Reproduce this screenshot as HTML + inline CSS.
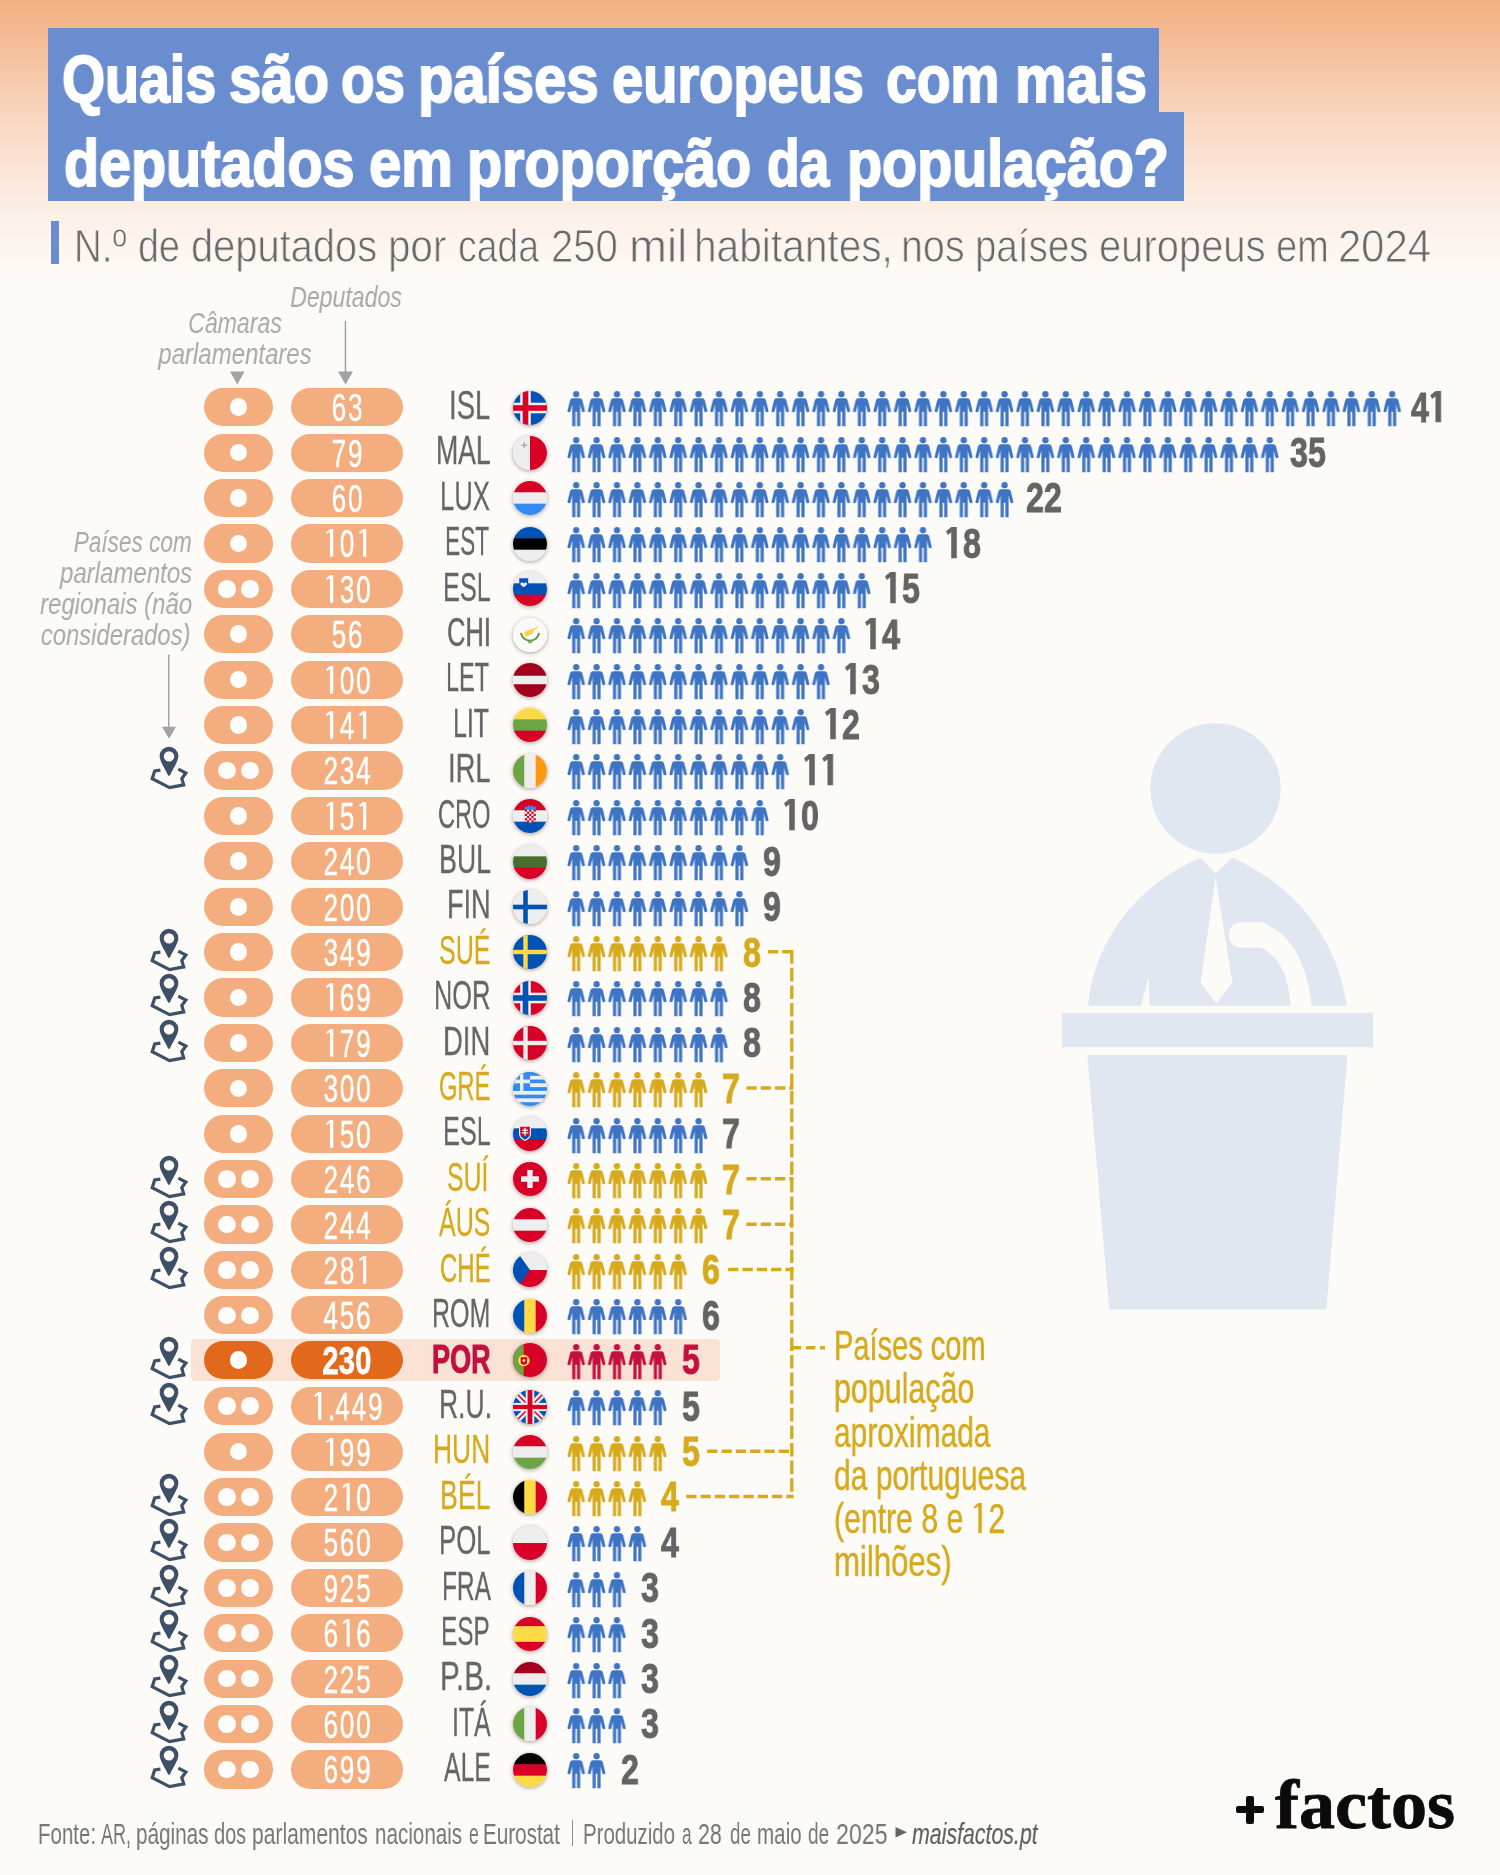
<!DOCTYPE html>
<html><head><meta charset="utf-8"><title>Deputados por habitante</title><style>
html,body{margin:0;padding:0;}
body{width:1500px;height:1875px;position:relative;overflow:hidden;background:#fdfbf8;font-family:"Liberation Sans",sans-serif;}
#bg{position:absolute;left:0;top:0;width:1500px;height:320px;background:linear-gradient(to bottom,#f3b082 0px,#f6c7a6 70px,#fadeca 140px,#fcf0e7 215px,#fdf8f4 265px,#fdfbf8 320px);}
.abs{position:absolute;}
.t{position:absolute;font-family:"Liberation Sans",sans-serif;line-height:1;white-space:nowrap;will-change:transform;}
.t.se{font-family:"Liberation Serif",serif;}
.o1{display:inline-block;width:0.627em;height:0.701em;vertical-align:baseline;fill:currentColor;}
.o1b{display:inline-block;width:0.5644em;height:0.739em;vertical-align:-0.5px;fill:currentColor;}
.pill{position:absolute;height:38.2px;border-radius:19.1px;background:#f4ad7e;}
.pill.h{background:#e2681c;}
.dot{position:absolute;width:17.6px;height:17.6px;border-radius:50%;background:#fefdfb;top:10.3px;}
.flag{position:absolute;width:34px;height:34px;border-radius:50%;box-shadow:0 1px 4px rgba(60,40,30,0.45);}
.flag svg{display:block;width:34px;height:34px;border-radius:50%;}
</style></head><body>
<div id="bg"></div>
<svg width="0" height="0" style="position:absolute"><defs>
<g id="p"><circle cx="0" cy="3.200" r="3.150"/><path d="M-3.600,7.200H3.600Q5.700,7.200 6.200,9.200L8.700,19.600Q9,21 7.500,21.300Q6.100,21.500 5.700,20.200L4,13.400V35.200H0.800V20.800H-0.800V35.200H-4V13.400L-5.700,20.200Q-6.100,21.500 -7.500,21.300Q-9,21 -8.700,19.600L-6.200,9.200Q-5.700,7.200 -3.600,7.200Z"/></g>
<pattern id="ppb" x="0" y="0" width="20.400" height="40" patternUnits="userSpaceOnUse"><use href="#p" x="10.200" y="0" fill="#3e74c4"/></pattern>
<pattern id="ppy" x="0" y="0" width="20.400" height="40" patternUnits="userSpaceOnUse"><use href="#p" x="10.200" y="0" fill="#d6aa1c"/></pattern>
<pattern id="ppr" x="0" y="0" width="20.400" height="40" patternUnits="userSpaceOnUse"><use href="#p" x="10.200" y="0" fill="#c3113f"/></pattern>
<g id="pin"><path d="M0,-23.300A9.350,9.350 0 0 0 -9.350,-13.950C-9.350,-8.500 -3.700,-0.800 -1.400,4.500Q0,7.400 1.400,4.500C3.700,-0.800 9.350,-8.500 9.350,-13.950A9.350,9.350 0 0 0 0,-23.300Z" fill="#3e5068"/><circle cx="0" cy="-13.600" r="5.200" fill="#fdfbf8"/><path d="M-8.600,0.100L-14.300,0.900L-16.800,8.700L0.500,17.600L14.700,14.900L12.800,8.500L16.900,3L9.300,-0.900" fill="none" stroke="#3e5068" stroke-width="3.200" stroke-linejoin="miter"/></g>
</defs></svg>
<div class="abs" style="left:48px;top:28.3px;width:1111px;height:84px;background:#698dcf;"></div>
<div class="abs" style="left:48px;top:111.700px;width:1136px;height:89.600px;background:#698dcf;"></div>
<div class="t" style="top:46.43px;font-size:66px;color:#fff;font-weight:700;left:62.32px;transform-origin:0 0;transform:scaleX(0.8403);-webkit-text-stroke:2px #fff;">Quais</div>
<div class="t" style="top:46.43px;font-size:66px;color:#fff;font-weight:700;left:228.86px;transform-origin:0 0;transform:scaleX(0.8792);-webkit-text-stroke:2px #fff;">são</div>
<div class="t" style="top:46.43px;font-size:66px;color:#fff;font-weight:700;left:341.17px;transform-origin:0 0;transform:scaleX(0.8311);-webkit-text-stroke:2px #fff;">os</div>
<div class="t" style="top:46.43px;font-size:66px;color:#fff;font-weight:700;left:418.35px;transform-origin:0 0;transform:scaleX(0.8791);-webkit-text-stroke:2px #fff;">países</div>
<div class="t" style="top:46.43px;font-size:66px;color:#fff;font-weight:700;left:612.39px;transform-origin:0 0;transform:scaleX(0.8484);-webkit-text-stroke:2px #fff;">europeus</div>
<div class="t" style="top:46.43px;font-size:66px;color:#fff;font-weight:700;left:885.66px;transform-origin:0 0;transform:scaleX(0.8359);-webkit-text-stroke:2px #fff;">com</div>
<div class="t" style="top:46.43px;font-size:66px;color:#fff;font-weight:700;left:1014.61px;transform-origin:0 0;transform:scaleX(0.8769);-webkit-text-stroke:2px #fff;">mais</div>
<div class="t" style="top:130.43px;font-size:66px;color:#fff;font-weight:700;left:63.52px;transform-origin:0 0;transform:scaleX(0.8704);-webkit-text-stroke:2px #fff;">deputados</div>
<div class="t" style="top:130.43px;font-size:66px;color:#fff;font-weight:700;left:369.10px;transform-origin:0 0;transform:scaleX(0.8765);-webkit-text-stroke:2px #fff;">em</div>
<div class="t" style="top:130.43px;font-size:66px;color:#fff;font-weight:700;left:467.13px;transform-origin:0 0;transform:scaleX(0.8709);-webkit-text-stroke:2px #fff;">proporção</div>
<div class="t" style="top:130.43px;font-size:66px;color:#fff;font-weight:700;left:766.63px;transform-origin:0 0;transform:scaleX(0.8083);-webkit-text-stroke:2px #fff;">da</div>
<div class="t" style="top:130.43px;font-size:66px;color:#fff;font-weight:700;left:846.63px;transform-origin:0 0;transform:scaleX(0.869);-webkit-text-stroke:2px #fff;">população?</div>
<div class="abs" style="left:50.600px;top:220.600px;width:8.400px;height:43.800px;background:#6b8dd0;"></div>
<div class="t" style="top:223.24px;font-size:46.5px;color:#686868;font-weight:400;left:74.48px;transform-origin:0 0;transform:scaleX(0.829);-webkit-text-stroke:0.9px #fdf6f0;">N.º</div>
<div class="t" style="top:223.24px;font-size:46.5px;color:#686868;font-weight:400;left:137.60px;transform-origin:0 0;transform:scaleX(0.8102);-webkit-text-stroke:0.9px #fdf6f0;">de</div>
<div class="t" style="top:223.24px;font-size:46.5px;color:#686868;font-weight:400;left:191.24px;transform-origin:0 0;transform:scaleX(0.8568);-webkit-text-stroke:0.9px #fdf6f0;">deputados</div>
<div class="t" style="top:223.24px;font-size:46.5px;color:#686868;font-weight:400;left:388.26px;transform-origin:0 0;transform:scaleX(0.868);-webkit-text-stroke:0.9px #fdf6f0;">por</div>
<div class="t" style="top:223.24px;font-size:46.5px;color:#686868;font-weight:400;left:458.03px;transform-origin:0 0;transform:scaleX(0.8036);-webkit-text-stroke:0.9px #fdf6f0;">cada</div>
<div class="t" style="top:223.24px;font-size:46.5px;color:#686868;font-weight:400;left:551.38px;transform-origin:0 0;transform:scaleX(0.8609);-webkit-text-stroke:0.9px #fdf6f0;">250</div>
<div class="t" style="top:223.24px;font-size:46.5px;color:#686868;font-weight:400;left:629.02px;transform-origin:0 0;transform:scaleX(0.9799);-webkit-text-stroke:0.9px #fdf6f0;">mil</div>
<div class="t" style="top:223.24px;font-size:46.5px;color:#686868;font-weight:400;left:693.81px;transform-origin:0 0;transform:scaleX(0.8744);-webkit-text-stroke:0.9px #fdf6f0;">habitantes,</div>
<div class="t" style="top:223.24px;font-size:46.5px;color:#686868;font-weight:400;left:900.74px;transform-origin:0 0;transform:scaleX(0.8478);-webkit-text-stroke:0.9px #fdf6f0;">nos</div>
<div class="t" style="top:223.24px;font-size:46.5px;color:#686868;font-weight:400;left:974.75px;transform-origin:0 0;transform:scaleX(0.8274);-webkit-text-stroke:0.9px #fdf6f0;">países</div>
<div class="t" style="top:223.24px;font-size:46.5px;color:#686868;font-weight:400;left:1098.70px;transform-origin:0 0;transform:scaleX(0.8585);-webkit-text-stroke:0.9px #fdf6f0;">europeus</div>
<div class="t" style="top:223.24px;font-size:46.5px;color:#686868;font-weight:400;left:1276.40px;transform-origin:0 0;transform:scaleX(0.8177);-webkit-text-stroke:0.9px #fdf6f0;">em</div>
<div class="t" style="top:223.24px;font-size:46.5px;color:#686868;font-weight:400;left:1338.33px;transform-origin:0 0;transform:scaleX(0.8999);-webkit-text-stroke:0.9px #fdf6f0;">2024</div>
<div class="t" style="top:281.61px;font-size:30px;color:#a9a9a9;font-weight:400;font-style:italic;left:346.00px;transform-origin:0 0;transform:scaleX(0.77) translateX(-50%);">Deputados</div>
<div class="t" style="top:308.21px;font-size:30px;color:#a9a9a9;font-weight:400;font-style:italic;left:234.70px;transform-origin:0 0;transform:scaleX(0.77) translateX(-50%);">Câmaras</div>
<div class="t" style="top:338.61px;font-size:30px;color:#a9a9a9;font-weight:400;font-style:italic;left:234.70px;transform-origin:0 0;transform:scaleX(0.8) translateX(-50%);">parlamentares</div>
<svg class="abs" style="left:0;top:0" width="1500" height="1875" viewBox="0 0 1500 1875">
<path d="M230,371.600h14.600l-7.300,12.800z" fill="#a3a3a3"/>
<path d="M338,371.600h15l-7.500,12.800z" fill="#a3a3a3"/><rect x="344.700" y="321" width="1.500" height="52" fill="#a3a3a3"/>
<path d="M162,726.700h14l-7,12z" fill="#a3a3a3"/><rect x="168" y="654.700" width="1.500" height="73" fill="#a3a3a3"/>
<g fill="#e1e7f0">
<circle cx="1215.500" cy="788.500" r="65.200"/>
<path d="M1088,1005.700C1094,945 1132,887 1200.700,857.800L1215.500,873L1232.400,857.800C1299,887 1338,943 1346.800,1005.700H1311.600C1309,975 1296,938 1269.400,926.500C1267,923.500 1264,922.300 1260,922.300H1242C1233,922.300 1228.900,928 1228.900,935C1228.900,942 1233,947.600 1242,947.600H1260C1278,955 1289,975 1290.500,1005.700H1149.600L1148.600,977.500L1140.800,1005.700Z"/>
<rect x="1062" y="1012.700" width="311.200" height="34.600"/>
<path d="M1087.300,1055H1347.500L1326.400,1309.600H1109.200Z"/>
</g>
<path d="M1215.500,877.200L1232.400,982.800L1216.200,1003.200L1200.700,982.800Z" fill="#fdfbf8"/>
<path d="M792,950.2V1498.1" stroke="#d6aa1c" stroke-width="3.300" stroke-dasharray="13.600 4" fill="none" transform="translate(-0.2,0)"/>
<path d="M768,951.7H793.400" stroke="#d6aa1c" stroke-width="3.500" stroke-dasharray="10.300 4" fill="none"/>
<path d="M746.4,1087.9H793.400" stroke="#d6aa1c" stroke-width="3.500" stroke-dasharray="10.300 4" fill="none"/>
<path d="M746.4,1178.8H793.400" stroke="#d6aa1c" stroke-width="3.500" stroke-dasharray="10.300 4" fill="none"/>
<path d="M746.4,1224.2H793.400" stroke="#d6aa1c" stroke-width="3.500" stroke-dasharray="10.300 4" fill="none"/>
<path d="M728.2,1269.6H793.400" stroke="#d6aa1c" stroke-width="3.500" stroke-dasharray="10.300 4" fill="none"/>
<path d="M707.2,1451.2H793.400" stroke="#d6aa1c" stroke-width="3.500" stroke-dasharray="10.300 4" fill="none"/>
<path d="M686.2,1496.6H793.400" stroke="#d6aa1c" stroke-width="3.500" stroke-dasharray="10.300 4" fill="none"/>
<path d="M791.800,1347.800H825" stroke="#d6aa1c" stroke-width="3.500" stroke-dasharray="9.500 4.600" fill="none"/>
</svg>
<div class="t" style="top:526.61px;font-size:30px;color:#a9a9a9;font-weight:400;font-style:italic;right:1308.00px;transform-origin:100% 0;transform:scaleX(0.753);">Países com</div>
<div class="t" style="top:557.61px;font-size:30px;color:#a9a9a9;font-weight:400;font-style:italic;right:1307.80px;transform-origin:100% 0;transform:scaleX(0.8);">parlamentos</div>
<div class="t" style="top:588.61px;font-size:30px;color:#a9a9a9;font-weight:400;font-style:italic;right:1308.20px;transform-origin:100% 0;transform:scaleX(0.8);">regionais (não</div>
<div class="t" style="top:619.61px;font-size:30px;color:#a9a9a9;font-weight:400;font-style:italic;right:1309.50px;transform-origin:100% 0;transform:scaleX(0.794);">considerados)</div>
<div class="abs" style="left:190.600px;top:1339.200px;width:529.600px;height:41.600px;border-radius:4.500px;background:#fae3d5;"></div>
<div class="pill" style="left:204.400px;top:388.10px;width:68.400px;"><div class="dot" style="left:25.350px"></div></div>
<div class="pill" style="left:290.500px;top:388.10px;width:112.400px;"></div>
<div class="t" style="top:388.16px;font-size:39.5px;color:#fff;font-weight:400;letter-spacing:2.8px;left:347.60px;transform-origin:0 0;transform:scaleX(0.66) translateX(-50%);-webkit-text-stroke:0.55px #fff;">63</div>
<div class="t" style="top:385.89px;font-size:40.3px;color:#666;font-weight:400;left:449.48px;transform-origin:0 0;transform:scaleX(0.6828);-webkit-text-stroke:0.3px #666;">ISL</div>
<div class="flag" style="left:512.500px;top:390.50px;"><svg viewBox="0 0 34 34"><rect width="34" height="34" fill="#0052b4"/><rect x="7.2" y="0" width="10.6" height="34" fill="#eeeeee"/><rect x="0" y="11.7" width="34" height="10.6" fill="#eeeeee"/><rect x="9.7" y="0" width="5.6" height="34" fill="#d80027"/><rect x="0" y="14.2" width="34" height="5.6" fill="#d80027"/></svg></div>
<svg class="abs" style="left:566.200px;top:391.10px" width="836.4" height="36" viewBox="0 0 836.4 36"><rect x="0" y="0" width="836.4" height="36" fill="url(#ppb)"/></svg>
<div class="t" style="top:386.58px;font-size:42.2px;color:#646464;font-weight:700;letter-spacing:0.35px;left:1411.41px;transform-origin:0 0;transform:scaleX(0.76);-webkit-text-stroke:1px #646464;">4<svg class="o1b" viewBox="0 0 564 739"><path d="M195,0H369.500V739H195V125.600L88.900,189.600L29.600,102Z"/></svg></div>
<div class="pill" style="left:204.400px;top:433.51px;width:68.400px;"><div class="dot" style="left:25.350px"></div></div>
<div class="pill" style="left:290.500px;top:433.51px;width:112.400px;"></div>
<div class="t" style="top:433.57px;font-size:39.5px;color:#fff;font-weight:400;letter-spacing:2.8px;left:347.60px;transform-origin:0 0;transform:scaleX(0.66) translateX(-50%);-webkit-text-stroke:0.55px #fff;">79</div>
<div class="t" style="top:431.30px;font-size:40.3px;color:#666;font-weight:400;left:436.02px;transform-origin:0 0;transform:scaleX(0.6603);-webkit-text-stroke:0.3px #666;">MAL</div>
<div class="flag" style="left:512.500px;top:435.91px;"><svg viewBox="0 0 34 34"><rect width="34" height="34" fill="#eeeeee"/><rect x="17" width="17" height="34" fill="#d80027"/><path d="M10.5 6.2h1.6v2.2h2.2v1.6h-2.2v2.2h-1.6v-2.2h-2.2v-1.6h2.2z" fill="#acabb1"/></svg></div>
<svg class="abs" style="left:566.200px;top:436.51px" width="714.0" height="36" viewBox="0 0 714.0 36"><rect x="0" y="0" width="714.0" height="36" fill="url(#ppb)"/></svg>
<div class="t" style="top:431.99px;font-size:42.2px;color:#646464;font-weight:700;letter-spacing:0.35px;left:1289.79px;transform-origin:0 0;transform:scaleX(0.76);-webkit-text-stroke:1px #646464;">35</div>
<div class="pill" style="left:204.400px;top:478.92px;width:68.400px;"><div class="dot" style="left:25.350px"></div></div>
<div class="pill" style="left:290.500px;top:478.92px;width:112.400px;"></div>
<div class="t" style="top:478.98px;font-size:39.5px;color:#fff;font-weight:400;letter-spacing:2.8px;left:347.60px;transform-origin:0 0;transform:scaleX(0.66) translateX(-50%);-webkit-text-stroke:0.55px #fff;">60</div>
<div class="t" style="top:476.71px;font-size:40.3px;color:#666;font-weight:400;left:440.20px;transform-origin:0 0;transform:scaleX(0.6362);-webkit-text-stroke:0.3px #666;">LUX</div>
<div class="flag" style="left:512.500px;top:481.32px;"><svg viewBox="0 0 34 34"><rect x="0" y="0.00" width="34" height="11.83" fill="#d80027"/><rect x="0" y="11.33" width="34" height="11.83" fill="#eeeeee"/><rect x="0" y="22.67" width="34" height="11.83" fill="#338af3"/></svg></div>
<svg class="abs" style="left:566.200px;top:481.92px" width="448.8" height="36" viewBox="0 0 448.8 36"><rect x="0" y="0" width="448.8" height="36" fill="url(#ppb)"/></svg>
<div class="t" style="top:477.40px;font-size:42.2px;color:#646464;font-weight:700;letter-spacing:0.35px;left:1026.28px;transform-origin:0 0;transform:scaleX(0.76);-webkit-text-stroke:1px #646464;">22</div>
<div class="pill" style="left:204.400px;top:524.33px;width:68.400px;"><div class="dot" style="left:25.350px"></div></div>
<div class="pill" style="left:290.500px;top:524.33px;width:112.400px;"></div>
<div class="t" style="top:524.39px;font-size:39.5px;color:#fff;font-weight:400;letter-spacing:2.8px;left:347.60px;transform-origin:0 0;transform:scaleX(0.66) translateX(-50%);-webkit-text-stroke:0.55px #fff;"><svg class="o1" viewBox="0 0 627 701"><path d="M253,0H372V701H253V78L142,125L92,89Z"/></svg>0<svg class="o1" viewBox="0 0 627 701"><path d="M253,0H372V701H253V78L142,125L92,89Z"/></svg></div>
<div class="t" style="top:522.12px;font-size:40.3px;color:#666;font-weight:400;left:444.63px;transform-origin:0 0;transform:scaleX(0.5624);-webkit-text-stroke:0.3px #666;">EST</div>
<div class="flag" style="left:512.500px;top:526.73px;"><svg viewBox="0 0 34 34"><rect x="0" y="0.00" width="34" height="11.83" fill="#0052b4"/><rect x="0" y="11.33" width="34" height="11.83" fill="#000000"/><rect x="0" y="22.67" width="34" height="11.83" fill="#eeeeee"/></svg></div>
<svg class="abs" style="left:566.200px;top:527.33px" width="367.2" height="36" viewBox="0 0 367.2 36"><rect x="0" y="0" width="367.2" height="36" fill="url(#ppb)"/></svg>
<div class="t" style="top:522.81px;font-size:42.2px;color:#646464;font-weight:700;letter-spacing:0.35px;left:945.20px;transform-origin:0 0;transform:scaleX(0.76);-webkit-text-stroke:1px #646464;"><svg class="o1b" viewBox="0 0 564 739"><path d="M195,0H369.500V739H195V125.600L88.900,189.600L29.600,102Z"/></svg>8</div>
<div class="pill" style="left:204.400px;top:569.74px;width:68.400px;"><div class="dot" style="left:13.900px"></div><div class="dot" style="left:36.800px"></div></div>
<div class="pill" style="left:290.500px;top:569.74px;width:112.400px;"></div>
<div class="t" style="top:569.80px;font-size:39.5px;color:#fff;font-weight:400;letter-spacing:2.8px;left:347.60px;transform-origin:0 0;transform:scaleX(0.66) translateX(-50%);-webkit-text-stroke:0.55px #fff;"><svg class="o1" viewBox="0 0 627 701"><path d="M253,0H372V701H253V78L142,125L92,89Z"/></svg>30</div>
<div class="t" style="top:567.53px;font-size:40.3px;color:#666;font-weight:400;left:443.03px;transform-origin:0 0;transform:scaleX(0.6259);-webkit-text-stroke:0.3px #666;">ESL</div>
<div class="flag" style="left:512.500px;top:572.14px;"><svg viewBox="0 0 34 34"><rect x="0" y="0.00" width="34" height="11.83" fill="#eeeeee"/><rect x="0" y="11.33" width="34" height="11.83" fill="#0052b4"/><rect x="0" y="22.67" width="34" height="11.83" fill="#d80027"/><path d="M6.300,6.300h8.900v5.200c0,2.900-4.450,4.700-4.450,4.700s-4.450-1.800-4.450-4.700z" fill="#0052b4"/><path d="M7.300,11.600l1.700-1.500 1.750,1.300 1.750-1.300 1.700,1.500c0,2.100-3.450,3.600-3.450,3.600s-3.450-1.500-3.450-3.600z" fill="#eeeeee"/></svg></div>
<svg class="abs" style="left:566.200px;top:572.74px" width="306.0" height="36" viewBox="0 0 306.0 36"><rect x="0" y="0" width="306.0" height="36" fill="url(#ppb)"/></svg>
<div class="t" style="top:568.22px;font-size:42.2px;color:#646464;font-weight:700;letter-spacing:0.35px;left:884.39px;transform-origin:0 0;transform:scaleX(0.76);-webkit-text-stroke:1px #646464;"><svg class="o1b" viewBox="0 0 564 739"><path d="M195,0H369.500V739H195V125.600L88.900,189.600L29.600,102Z"/></svg>5</div>
<div class="pill" style="left:204.400px;top:615.15px;width:68.400px;"><div class="dot" style="left:25.350px"></div></div>
<div class="pill" style="left:290.500px;top:615.15px;width:112.400px;"></div>
<div class="t" style="top:615.21px;font-size:39.5px;color:#fff;font-weight:400;letter-spacing:2.8px;left:347.60px;transform-origin:0 0;transform:scaleX(0.66) translateX(-50%);-webkit-text-stroke:0.55px #fff;">56</div>
<div class="t" style="top:612.94px;font-size:40.3px;color:#666;font-weight:400;left:446.63px;transform-origin:0 0;transform:scaleX(0.6328);-webkit-text-stroke:0.3px #666;">CHI</div>
<div class="flag" style="left:512.500px;top:617.55px;"><svg viewBox="0 0 34 34"><rect width="34" height="34" fill="#fafafa"/><path d="M11.300,15.200C11.800,13 14.500,12.300 17,11.800C20,11 23,9.200 25.400,8.200C24.800,9.800 22.500,11.300 20.800,12.300C21.300,13.600 20.500,15 19,15.800C17.500,16.800 15.500,18.200 13.800,18.500C12,18.700 10.800,16.800 11.300,15.200Z" fill="#ffd04a"/><path d="M7.900,14.900A9.200,9.200 0 0 0 26.100,14.900" fill="none" stroke="#6c9c3c" stroke-width="2.100"/><path d="M14.600,23.300l1.300,2.400 1.100-1.500 1.100,1.500 1.300-2.400z" fill="#6c9c3c"/></svg></div>
<svg class="abs" style="left:566.200px;top:618.15px" width="285.6" height="36" viewBox="0 0 285.6 36"><rect x="0" y="0" width="285.6" height="36" fill="url(#ppb)"/></svg>
<div class="t" style="top:613.63px;font-size:42.2px;color:#646464;font-weight:700;letter-spacing:0.35px;left:864.12px;transform-origin:0 0;transform:scaleX(0.76);-webkit-text-stroke:1px #646464;"><svg class="o1b" viewBox="0 0 564 739"><path d="M195,0H369.500V739H195V125.600L88.900,189.600L29.600,102Z"/></svg>4</div>
<div class="pill" style="left:204.400px;top:660.56px;width:68.400px;"><div class="dot" style="left:25.350px"></div></div>
<div class="pill" style="left:290.500px;top:660.56px;width:112.400px;"></div>
<div class="t" style="top:660.62px;font-size:39.5px;color:#fff;font-weight:400;letter-spacing:2.8px;left:347.60px;transform-origin:0 0;transform:scaleX(0.66) translateX(-50%);-webkit-text-stroke:0.55px #fff;"><svg class="o1" viewBox="0 0 627 701"><path d="M253,0H372V701H253V78L142,125L92,89Z"/></svg>00</div>
<div class="t" style="top:658.35px;font-size:40.3px;color:#666;font-weight:400;left:445.96px;transform-origin:0 0;transform:scaleX(0.5829);-webkit-text-stroke:0.3px #666;">LET</div>
<div class="flag" style="left:512.500px;top:662.96px;"><svg viewBox="0 0 34 34"><rect x="0" y="0.00" width="34" height="13.25" fill="#a2001d"/><rect x="0" y="12.75" width="34" height="9.00" fill="#eeeeee"/><rect x="0" y="21.25" width="34" height="13.25" fill="#a2001d"/></svg></div>
<svg class="abs" style="left:566.200px;top:663.56px" width="265.2" height="36" viewBox="0 0 265.2 36"><rect x="0" y="0" width="265.2" height="36" fill="url(#ppb)"/></svg>
<div class="t" style="top:659.04px;font-size:42.2px;color:#646464;font-weight:700;letter-spacing:0.35px;left:843.85px;transform-origin:0 0;transform:scaleX(0.76);-webkit-text-stroke:1px #646464;"><svg class="o1b" viewBox="0 0 564 739"><path d="M195,0H369.500V739H195V125.600L88.900,189.600L29.600,102Z"/></svg>3</div>
<div class="pill" style="left:204.400px;top:705.97px;width:68.400px;"><div class="dot" style="left:25.350px"></div></div>
<div class="pill" style="left:290.500px;top:705.97px;width:112.400px;"></div>
<div class="t" style="top:706.03px;font-size:39.5px;color:#fff;font-weight:400;letter-spacing:2.8px;left:347.60px;transform-origin:0 0;transform:scaleX(0.66) translateX(-50%);-webkit-text-stroke:0.55px #fff;"><svg class="o1" viewBox="0 0 627 701"><path d="M253,0H372V701H253V78L142,125L92,89Z"/></svg>4<svg class="o1" viewBox="0 0 627 701"><path d="M253,0H372V701H253V78L142,125L92,89Z"/></svg></div>
<div class="t" style="top:703.76px;font-size:40.3px;color:#666;font-weight:400;left:452.75px;transform-origin:0 0;transform:scaleX(0.6188);-webkit-text-stroke:0.3px #666;">LIT</div>
<div class="flag" style="left:512.500px;top:708.37px;"><svg viewBox="0 0 34 34"><rect x="0" y="0.00" width="34" height="11.83" fill="#ffda44"/><rect x="0" y="11.33" width="34" height="11.83" fill="#6da544"/><rect x="0" y="22.67" width="34" height="11.83" fill="#d80027"/></svg></div>
<svg class="abs" style="left:566.200px;top:708.97px" width="244.8" height="36" viewBox="0 0 244.8 36"><rect x="0" y="0" width="244.8" height="36" fill="url(#ppb)"/></svg>
<div class="t" style="top:704.45px;font-size:42.2px;color:#646464;font-weight:700;letter-spacing:0.35px;left:823.58px;transform-origin:0 0;transform:scaleX(0.76);-webkit-text-stroke:1px #646464;"><svg class="o1b" viewBox="0 0 564 739"><path d="M195,0H369.500V739H195V125.600L88.900,189.600L29.600,102Z"/></svg>2</div>
<div class="pill" style="left:204.400px;top:751.38px;width:68.400px;"><div class="dot" style="left:13.900px"></div><div class="dot" style="left:36.800px"></div></div>
<div class="pill" style="left:290.500px;top:751.38px;width:112.400px;"></div>
<div class="t" style="top:751.44px;font-size:39.5px;color:#fff;font-weight:400;letter-spacing:2.8px;left:347.60px;transform-origin:0 0;transform:scaleX(0.66) translateX(-50%);-webkit-text-stroke:0.55px #fff;">234</div>
<div class="t" style="top:749.17px;font-size:40.3px;color:#666;font-weight:400;left:448.19px;transform-origin:0 0;transform:scaleX(0.6793);-webkit-text-stroke:0.3px #666;">IRL</div>
<div class="flag" style="left:512.500px;top:753.78px;"><svg viewBox="0 0 34 34"><rect y="0" x="0.00" height="34" width="11.83" fill="#6da544"/><rect y="0" x="11.33" height="34" width="11.83" fill="#eeeeee"/><rect y="0" x="22.67" height="34" width="11.83" fill="#ff9811"/></svg></div>
<svg class="abs" style="left:566.200px;top:754.38px" width="224.4" height="36" viewBox="0 0 224.4 36"><rect x="0" y="0" width="224.4" height="36" fill="url(#ppb)"/></svg>
<div class="t" style="top:749.86px;font-size:42.2px;color:#646464;font-weight:700;letter-spacing:0.35px;left:803.31px;transform-origin:0 0;transform:scaleX(0.76);-webkit-text-stroke:1px #646464;"><svg class="o1b" viewBox="0 0 564 739"><path d="M195,0H369.500V739H195V125.600L88.900,189.600L29.600,102Z"/></svg><svg class="o1b" viewBox="0 0 564 739"><path d="M195,0H369.500V739H195V125.600L88.900,189.600L29.600,102Z"/></svg></div>
<svg class="abs" style="left:139.800px;top:740.28px" width="60" height="60" viewBox="-29 -30 60 60"><use href="#pin" x="0" y="0"/></svg>
<div class="pill" style="left:204.400px;top:796.79px;width:68.400px;"><div class="dot" style="left:25.350px"></div></div>
<div class="pill" style="left:290.500px;top:796.79px;width:112.400px;"></div>
<div class="t" style="top:796.85px;font-size:39.5px;color:#fff;font-weight:400;letter-spacing:2.8px;left:347.60px;transform-origin:0 0;transform:scaleX(0.66) translateX(-50%);-webkit-text-stroke:0.55px #fff;"><svg class="o1" viewBox="0 0 627 701"><path d="M253,0H372V701H253V78L142,125L92,89Z"/></svg>5<svg class="o1" viewBox="0 0 627 701"><path d="M253,0H372V701H253V78L142,125L92,89Z"/></svg></div>
<div class="t" style="top:794.58px;font-size:40.3px;color:#666;font-weight:400;left:437.82px;transform-origin:0 0;transform:scaleX(0.5856);-webkit-text-stroke:0.3px #666;">CRO</div>
<div class="flag" style="left:512.500px;top:799.19px;"><svg viewBox="0 0 34 34"><rect x="0" y="0.00" width="34" height="11.83" fill="#d80027"/><rect x="0" y="11.33" width="34" height="11.83" fill="#eeeeee"/><rect x="0" y="22.67" width="34" height="11.83" fill="#0052b4"/><g transform="translate(0.3,0.9)"><path d="M11.500 9.500h11v8c0 3-2.500 5-5.500 5s-5.500-2-5.500-5z" fill="#eeeeee"/><rect x="11.50" y="9.50" width="2.2" height="2.2" fill="#d80027"/><rect x="15.90" y="9.50" width="2.2" height="2.2" fill="#d80027"/><rect x="20.30" y="9.50" width="2.2" height="2.2" fill="#d80027"/><rect x="13.70" y="11.70" width="2.2" height="2.2" fill="#d80027"/><rect x="18.10" y="11.70" width="2.2" height="2.2" fill="#d80027"/><rect x="11.50" y="13.90" width="2.2" height="2.2" fill="#d80027"/><rect x="15.90" y="13.90" width="2.2" height="2.2" fill="#d80027"/><rect x="20.30" y="13.90" width="2.2" height="2.2" fill="#d80027"/><rect x="13.70" y="16.10" width="2.2" height="2.2" fill="#d80027"/><rect x="18.10" y="16.10" width="2.2" height="2.2" fill="#d80027"/><rect x="11.50" y="18.30" width="2.2" height="2.2" fill="#d80027"/><rect x="15.90" y="18.30" width="2.2" height="2.2" fill="#d80027"/><rect x="20.30" y="18.30" width="2.2" height="2.2" fill="#d80027"/><rect x="13.70" y="20.50" width="2.2" height="2.2" fill="#d80027"/><rect x="18.10" y="20.50" width="2.2" height="2.2" fill="#d80027"/><path d="M11 9.200l1-3.200 2 1 1.500-1.800 1.500 1.800 1.500-1.800 1.500 1.800 2-1 1 3.200z" fill="#338af3"/></g></svg></div>
<svg class="abs" style="left:566.200px;top:799.79px" width="204.0" height="36" viewBox="0 0 204.0 36"><rect x="0" y="0" width="204.0" height="36" fill="url(#ppb)"/></svg>
<div class="t" style="top:795.27px;font-size:42.2px;color:#646464;font-weight:700;letter-spacing:0.35px;left:783.04px;transform-origin:0 0;transform:scaleX(0.76);-webkit-text-stroke:1px #646464;"><svg class="o1b" viewBox="0 0 564 739"><path d="M195,0H369.500V739H195V125.600L88.900,189.600L29.600,102Z"/></svg>0</div>
<div class="pill" style="left:204.400px;top:842.20px;width:68.400px;"><div class="dot" style="left:25.350px"></div></div>
<div class="pill" style="left:290.500px;top:842.20px;width:112.400px;"></div>
<div class="t" style="top:842.26px;font-size:39.5px;color:#fff;font-weight:400;letter-spacing:2.8px;left:347.60px;transform-origin:0 0;transform:scaleX(0.66) translateX(-50%);-webkit-text-stroke:0.55px #fff;">240</div>
<div class="t" style="top:839.99px;font-size:40.3px;color:#666;font-weight:400;left:438.71px;transform-origin:0 0;transform:scaleX(0.664);-webkit-text-stroke:0.3px #666;">BUL</div>
<div class="flag" style="left:512.500px;top:844.60px;"><svg viewBox="0 0 34 34"><rect x="0" y="0.00" width="34" height="11.83" fill="#eeeeee"/><rect x="0" y="11.33" width="34" height="11.83" fill="#496e2d"/><rect x="0" y="22.67" width="34" height="11.83" fill="#d80027"/></svg></div>
<svg class="abs" style="left:566.200px;top:845.20px" width="183.6" height="36" viewBox="0 0 183.6 36"><rect x="0" y="0" width="183.6" height="36" fill="url(#ppb)"/></svg>
<div class="t" style="top:840.68px;font-size:42.2px;color:#646464;font-weight:700;letter-spacing:0.35px;left:762.77px;transform-origin:0 0;transform:scaleX(0.76);-webkit-text-stroke:1px #646464;">9</div>
<div class="pill" style="left:204.400px;top:887.61px;width:68.400px;"><div class="dot" style="left:25.350px"></div></div>
<div class="pill" style="left:290.500px;top:887.61px;width:112.400px;"></div>
<div class="t" style="top:887.67px;font-size:39.5px;color:#fff;font-weight:400;letter-spacing:2.8px;left:347.60px;transform-origin:0 0;transform:scaleX(0.66) translateX(-50%);-webkit-text-stroke:0.55px #fff;">200</div>
<div class="t" style="top:885.40px;font-size:40.3px;color:#666;font-weight:400;left:447.08px;transform-origin:0 0;transform:scaleX(0.6724);-webkit-text-stroke:0.3px #666;">FIN</div>
<div class="flag" style="left:512.500px;top:890.01px;"><svg viewBox="0 0 34 34"><rect width="34" height="34" fill="#eeeeee"/><rect x="10.2" y="0" width="4.6" height="34" fill="#0052b4"/><rect x="0" y="14.7" width="34" height="4.6" fill="#0052b4"/></svg></div>
<svg class="abs" style="left:566.200px;top:890.61px" width="183.6" height="36" viewBox="0 0 183.6 36"><rect x="0" y="0" width="183.6" height="36" fill="url(#ppb)"/></svg>
<div class="t" style="top:886.09px;font-size:42.2px;color:#646464;font-weight:700;letter-spacing:0.35px;left:762.77px;transform-origin:0 0;transform:scaleX(0.76);-webkit-text-stroke:1px #646464;">9</div>
<div class="pill" style="left:204.400px;top:933.02px;width:68.400px;"><div class="dot" style="left:25.350px"></div></div>
<div class="pill" style="left:290.500px;top:933.02px;width:112.400px;"></div>
<div class="t" style="top:933.08px;font-size:39.5px;color:#fff;font-weight:400;letter-spacing:2.8px;left:347.60px;transform-origin:0 0;transform:scaleX(0.66) translateX(-50%);-webkit-text-stroke:0.55px #fff;">349</div>
<div class="t" style="top:930.81px;font-size:40.3px;color:#d6aa1c;font-weight:400;left:438.98px;transform-origin:0 0;transform:scaleX(0.6198);-webkit-text-stroke:0.3px #d6aa1c;">SUÉ</div>
<div class="flag" style="left:512.500px;top:935.42px;"><svg viewBox="0 0 34 34"><rect width="34" height="34" fill="#0052b4"/><rect x="10.3" y="0" width="4.4" height="34" fill="#ffda44"/><rect x="0" y="14.8" width="34" height="4.4" fill="#ffda44"/></svg></div>
<svg class="abs" style="left:566.200px;top:936.02px" width="163.2" height="36" viewBox="0 0 163.2 36"><rect x="0" y="0" width="163.2" height="36" fill="url(#ppy)"/></svg>
<div class="t" style="top:931.50px;font-size:42.2px;color:#d6aa1c;font-weight:700;letter-spacing:0.35px;left:742.50px;transform-origin:0 0;transform:scaleX(0.76);-webkit-text-stroke:1px #d6aa1c;">8</div>
<svg class="abs" style="left:139.800px;top:921.92px" width="60" height="60" viewBox="-29 -30 60 60"><use href="#pin" x="0" y="0"/></svg>
<div class="pill" style="left:204.400px;top:978.43px;width:68.400px;"><div class="dot" style="left:25.350px"></div></div>
<div class="pill" style="left:290.500px;top:978.43px;width:112.400px;"></div>
<div class="t" style="top:978.49px;font-size:39.5px;color:#fff;font-weight:400;letter-spacing:2.8px;left:347.60px;transform-origin:0 0;transform:scaleX(0.66) translateX(-50%);-webkit-text-stroke:0.55px #fff;"><svg class="o1" viewBox="0 0 627 701"><path d="M253,0H372V701H253V78L142,125L92,89Z"/></svg>69</div>
<div class="t" style="top:976.22px;font-size:40.3px;color:#666;font-weight:400;left:434.12px;transform-origin:0 0;transform:scaleX(0.6293);-webkit-text-stroke:0.3px #666;">NOR</div>
<div class="flag" style="left:512.500px;top:980.83px;"><svg viewBox="0 0 34 34"><rect width="34" height="34" fill="#d80027"/><rect x="7.2" y="0" width="10.6" height="34" fill="#eeeeee"/><rect x="0" y="11.7" width="34" height="10.6" fill="#eeeeee"/><rect x="9.7" y="0" width="5.6" height="34" fill="#0052b4"/><rect x="0" y="14.2" width="34" height="5.6" fill="#0052b4"/></svg></div>
<svg class="abs" style="left:566.200px;top:981.43px" width="163.2" height="36" viewBox="0 0 163.2 36"><rect x="0" y="0" width="163.2" height="36" fill="url(#ppb)"/></svg>
<div class="t" style="top:976.91px;font-size:42.2px;color:#646464;font-weight:700;letter-spacing:0.35px;left:742.50px;transform-origin:0 0;transform:scaleX(0.76);-webkit-text-stroke:1px #646464;">8</div>
<svg class="abs" style="left:139.800px;top:967.33px" width="60" height="60" viewBox="-29 -30 60 60"><use href="#pin" x="0" y="0"/></svg>
<div class="pill" style="left:204.400px;top:1023.84px;width:68.400px;"><div class="dot" style="left:25.350px"></div></div>
<div class="pill" style="left:290.500px;top:1023.84px;width:112.400px;"></div>
<div class="t" style="top:1023.90px;font-size:39.5px;color:#fff;font-weight:400;letter-spacing:2.8px;left:347.60px;transform-origin:0 0;transform:scaleX(0.66) translateX(-50%);-webkit-text-stroke:0.55px #fff;"><svg class="o1" viewBox="0 0 627 701"><path d="M253,0H372V701H253V78L142,125L92,89Z"/></svg>79</div>
<div class="t" style="top:1021.63px;font-size:40.3px;color:#666;font-weight:400;left:443.45px;transform-origin:0 0;transform:scaleX(0.6815);-webkit-text-stroke:0.3px #666;">DIN</div>
<div class="flag" style="left:512.500px;top:1026.24px;"><svg viewBox="0 0 34 34"><rect width="34" height="34" fill="#d80027"/><rect x="10.3" y="0" width="4.4" height="34" fill="#eeeeee"/><rect x="0" y="14.8" width="34" height="4.4" fill="#eeeeee"/></svg></div>
<svg class="abs" style="left:566.200px;top:1026.84px" width="163.2" height="36" viewBox="0 0 163.2 36"><rect x="0" y="0" width="163.2" height="36" fill="url(#ppb)"/></svg>
<div class="t" style="top:1022.32px;font-size:42.2px;color:#646464;font-weight:700;letter-spacing:0.35px;left:742.50px;transform-origin:0 0;transform:scaleX(0.76);-webkit-text-stroke:1px #646464;">8</div>
<svg class="abs" style="left:139.800px;top:1012.74px" width="60" height="60" viewBox="-29 -30 60 60"><use href="#pin" x="0" y="0"/></svg>
<div class="pill" style="left:204.400px;top:1069.25px;width:68.400px;"><div class="dot" style="left:25.350px"></div></div>
<div class="pill" style="left:290.500px;top:1069.25px;width:112.400px;"></div>
<div class="t" style="top:1069.31px;font-size:39.5px;color:#fff;font-weight:400;letter-spacing:2.8px;left:347.60px;transform-origin:0 0;transform:scaleX(0.66) translateX(-50%);-webkit-text-stroke:0.55px #fff;">300</div>
<div class="t" style="top:1067.04px;font-size:40.3px;color:#d6aa1c;font-weight:400;left:438.91px;transform-origin:0 0;transform:scaleX(0.5881);-webkit-text-stroke:0.3px #d6aa1c;">GRÉ</div>
<div class="flag" style="left:512.500px;top:1071.65px;"><svg viewBox="0 0 34 34"><rect x="0" y="0.00" width="34" height="4.08" fill="#338af3"/><rect x="0" y="3.78" width="34" height="4.08" fill="#eeeeee"/><rect x="0" y="7.56" width="34" height="4.08" fill="#338af3"/><rect x="0" y="11.33" width="34" height="4.08" fill="#eeeeee"/><rect x="0" y="15.11" width="34" height="4.08" fill="#338af3"/><rect x="0" y="18.89" width="34" height="4.08" fill="#eeeeee"/><rect x="0" y="22.67" width="34" height="4.08" fill="#338af3"/><rect x="0" y="26.44" width="34" height="4.08" fill="#eeeeee"/><rect x="0" y="30.22" width="34" height="4.08" fill="#338af3"/><rect x="0" y="0" width="17" height="18.89" fill="#338af3"/><rect x="7" y="2" width="3.400" height="16.89" fill="#eeeeee"/><rect x="0" y="7.56" width="17" height="3.78" fill="#eeeeee"/></svg></div>
<svg class="abs" style="left:566.200px;top:1072.25px" width="142.8" height="36" viewBox="0 0 142.8 36"><rect x="0" y="0" width="142.8" height="36" fill="url(#ppy)"/></svg>
<div class="t" style="top:1067.73px;font-size:42.2px;color:#d6aa1c;font-weight:700;letter-spacing:0.35px;left:722.23px;transform-origin:0 0;transform:scaleX(0.76);-webkit-text-stroke:1px #d6aa1c;">7</div>
<div class="pill" style="left:204.400px;top:1114.66px;width:68.400px;"><div class="dot" style="left:25.350px"></div></div>
<div class="pill" style="left:290.500px;top:1114.66px;width:112.400px;"></div>
<div class="t" style="top:1114.72px;font-size:39.5px;color:#fff;font-weight:400;letter-spacing:2.8px;left:347.60px;transform-origin:0 0;transform:scaleX(0.66) translateX(-50%);-webkit-text-stroke:0.55px #fff;"><svg class="o1" viewBox="0 0 627 701"><path d="M253,0H372V701H253V78L142,125L92,89Z"/></svg>50</div>
<div class="t" style="top:1112.45px;font-size:40.3px;color:#666;font-weight:400;left:443.03px;transform-origin:0 0;transform:scaleX(0.6259);-webkit-text-stroke:0.3px #666;">ESL</div>
<div class="flag" style="left:512.500px;top:1117.06px;"><svg viewBox="0 0 34 34"><rect x="0" y="0.00" width="34" height="11.83" fill="#eeeeee"/><rect x="0" y="11.33" width="34" height="11.83" fill="#0052b4"/><rect x="0" y="22.67" width="34" height="11.83" fill="#d80027"/><path d="M6 8.500h12v8.500c0 4.500-6 7-6 7s-6-2.500-6-7z" fill="#eeeeee"/><path d="M7.200 9.700h9.600v7.300c0 3.500-4.800 5.600-4.800 5.600s-4.800-2.100-4.800-5.600z" fill="#d80027"/><path d="M11.300 10.800h1.400v1.800h2v1.300h-2v1.300h2.600v1.300h-2.600v2.500h-1.400v-2.500h-2.600v-1.300h2.600v-1.300h-2v-1.300h2z" fill="#eeeeee"/><path d="M8 19c1-1.500 2.500-1.500 4 0 1.500-1.500 3-1.500 4 0-1.200 2-4 3.400-4 3.400s-2.800-1.400-4-3.400z" fill="#0052b4"/></svg></div>
<svg class="abs" style="left:566.200px;top:1117.66px" width="142.8" height="36" viewBox="0 0 142.8 36"><rect x="0" y="0" width="142.8" height="36" fill="url(#ppb)"/></svg>
<div class="t" style="top:1113.14px;font-size:42.2px;color:#646464;font-weight:700;letter-spacing:0.35px;left:722.23px;transform-origin:0 0;transform:scaleX(0.76);-webkit-text-stroke:1px #646464;">7</div>
<div class="pill" style="left:204.400px;top:1160.07px;width:68.400px;"><div class="dot" style="left:13.900px"></div><div class="dot" style="left:36.800px"></div></div>
<div class="pill" style="left:290.500px;top:1160.07px;width:112.400px;"></div>
<div class="t" style="top:1160.13px;font-size:39.5px;color:#fff;font-weight:400;letter-spacing:2.8px;left:347.60px;transform-origin:0 0;transform:scaleX(0.66) translateX(-50%);-webkit-text-stroke:0.55px #fff;">246</div>
<div class="t" style="top:1157.86px;font-size:40.3px;color:#d6aa1c;font-weight:400;left:446.79px;transform-origin:0 0;transform:scaleX(0.6149);-webkit-text-stroke:0.3px #d6aa1c;">SUÍ</div>
<div class="flag" style="left:512.500px;top:1162.47px;"><svg viewBox="0 0 34 34"><rect width="34" height="34" fill="#d80027"/><path d="M14.300 8h5.400v6.300h6.300v5.400h-6.300v6.300h-5.400v-6.300h-6.300v-5.400h6.300z" fill="#eeeeee"/></svg></div>
<svg class="abs" style="left:566.200px;top:1163.07px" width="142.8" height="36" viewBox="0 0 142.8 36"><rect x="0" y="0" width="142.8" height="36" fill="url(#ppy)"/></svg>
<div class="t" style="top:1158.55px;font-size:42.2px;color:#d6aa1c;font-weight:700;letter-spacing:0.35px;left:722.23px;transform-origin:0 0;transform:scaleX(0.76);-webkit-text-stroke:1px #d6aa1c;">7</div>
<svg class="abs" style="left:139.800px;top:1148.97px" width="60" height="60" viewBox="-29 -30 60 60"><use href="#pin" x="0" y="0"/></svg>
<div class="pill" style="left:204.400px;top:1205.48px;width:68.400px;"><div class="dot" style="left:13.900px"></div><div class="dot" style="left:36.800px"></div></div>
<div class="pill" style="left:290.500px;top:1205.48px;width:112.400px;"></div>
<div class="t" style="top:1205.54px;font-size:39.5px;color:#fff;font-weight:400;letter-spacing:2.8px;left:347.60px;transform-origin:0 0;transform:scaleX(0.66) translateX(-50%);-webkit-text-stroke:0.55px #fff;">244</div>
<div class="t" style="top:1203.27px;font-size:40.3px;color:#d6aa1c;font-weight:400;left:438.93px;transform-origin:0 0;transform:scaleX(0.6187);-webkit-text-stroke:0.3px #d6aa1c;">ÁUS</div>
<div class="flag" style="left:512.500px;top:1207.88px;"><svg viewBox="0 0 34 34"><rect x="0" y="0.00" width="34" height="11.83" fill="#d80027"/><rect x="0" y="11.33" width="34" height="11.83" fill="#eeeeee"/><rect x="0" y="22.67" width="34" height="11.83" fill="#d80027"/></svg></div>
<svg class="abs" style="left:566.200px;top:1208.48px" width="142.8" height="36" viewBox="0 0 142.8 36"><rect x="0" y="0" width="142.8" height="36" fill="url(#ppy)"/></svg>
<div class="t" style="top:1203.96px;font-size:42.2px;color:#d6aa1c;font-weight:700;letter-spacing:0.35px;left:722.23px;transform-origin:0 0;transform:scaleX(0.76);-webkit-text-stroke:1px #d6aa1c;">7</div>
<svg class="abs" style="left:139.800px;top:1194.38px" width="60" height="60" viewBox="-29 -30 60 60"><use href="#pin" x="0" y="0"/></svg>
<div class="pill" style="left:204.400px;top:1250.89px;width:68.400px;"><div class="dot" style="left:13.900px"></div><div class="dot" style="left:36.800px"></div></div>
<div class="pill" style="left:290.500px;top:1250.89px;width:112.400px;"></div>
<div class="t" style="top:1250.95px;font-size:39.5px;color:#fff;font-weight:400;letter-spacing:2.8px;left:347.60px;transform-origin:0 0;transform:scaleX(0.66) translateX(-50%);-webkit-text-stroke:0.55px #fff;">28<svg class="o1" viewBox="0 0 627 701"><path d="M253,0H372V701H253V78L142,125L92,89Z"/></svg></div>
<div class="t" style="top:1248.68px;font-size:40.3px;color:#d6aa1c;font-weight:400;left:439.70px;transform-origin:0 0;transform:scaleX(0.5949);-webkit-text-stroke:0.3px #d6aa1c;">CHÉ</div>
<div class="flag" style="left:512.500px;top:1253.29px;"><svg viewBox="0 0 34 34"><rect width="34" height="17" fill="#eeeeee"/><rect y="17" width="34" height="17" fill="#d80027"/><path d="M0 0v34l5-0 12-17-12-17z" fill="#0052b4"/></svg></div>
<svg class="abs" style="left:566.200px;top:1253.89px" width="122.4" height="36" viewBox="0 0 122.4 36"><rect x="0" y="0" width="122.4" height="36" fill="url(#ppy)"/></svg>
<div class="t" style="top:1249.37px;font-size:42.2px;color:#d6aa1c;font-weight:700;letter-spacing:0.35px;left:701.96px;transform-origin:0 0;transform:scaleX(0.76);-webkit-text-stroke:1px #d6aa1c;">6</div>
<svg class="abs" style="left:139.800px;top:1239.79px" width="60" height="60" viewBox="-29 -30 60 60"><use href="#pin" x="0" y="0"/></svg>
<div class="pill" style="left:204.400px;top:1296.30px;width:68.400px;"><div class="dot" style="left:13.900px"></div><div class="dot" style="left:36.800px"></div></div>
<div class="pill" style="left:290.500px;top:1296.30px;width:112.400px;"></div>
<div class="t" style="top:1296.36px;font-size:39.5px;color:#fff;font-weight:400;letter-spacing:2.8px;left:347.60px;transform-origin:0 0;transform:scaleX(0.66) translateX(-50%);-webkit-text-stroke:0.55px #fff;">456</div>
<div class="t" style="top:1294.09px;font-size:40.3px;color:#666;font-weight:400;left:432.44px;transform-origin:0 0;transform:scaleX(0.6207);-webkit-text-stroke:0.3px #666;">ROM</div>
<div class="flag" style="left:512.500px;top:1298.70px;"><svg viewBox="0 0 34 34"><rect y="0" x="0.00" height="34" width="11.83" fill="#0052b4"/><rect y="0" x="11.33" height="34" width="11.83" fill="#ffda44"/><rect y="0" x="22.67" height="34" width="11.83" fill="#d80027"/></svg></div>
<svg class="abs" style="left:566.200px;top:1299.30px" width="122.4" height="36" viewBox="0 0 122.4 36"><rect x="0" y="0" width="122.4" height="36" fill="url(#ppb)"/></svg>
<div class="t" style="top:1294.78px;font-size:42.2px;color:#646464;font-weight:700;letter-spacing:0.35px;left:701.96px;transform-origin:0 0;transform:scaleX(0.76);-webkit-text-stroke:1px #646464;">6</div>
<div class="pill h" style="left:204.400px;top:1340.91px;width:68.400px;"><div class="dot" style="left:25.350px"></div></div>
<div class="pill h" style="left:290.500px;top:1340.91px;width:112.400px;"></div>
<div class="t" style="top:1341.17px;font-size:39.5px;color:#fff;font-weight:700;letter-spacing:0.4px;left:347.00px;transform-origin:0 0;transform:scaleX(0.735) translateX(-50%);-webkit-text-stroke:0.8px #fff;">230</div>
<div class="t" style="top:1339.05px;font-size:40px;color:#c3113f;font-weight:700;left:432.41px;transform-origin:0 0;transform:scaleX(0.6758);-webkit-text-stroke:1px #c3113f;">POR</div>
<div class="flag" style="left:512.500px;top:1343.31px;"><svg viewBox="0 0 34 34"><rect width="34" height="34" fill="#d80027"/><rect width="10.700" height="34" fill="#6da544"/><circle cx="10.900" cy="17.500" r="5.800" fill="#ffda44"/><path d="M7.700,14.200h6.400v4.300a3.200,3.200 0 0 1-6.400,0z" fill="#d80027"/><circle cx="10.900" cy="17.600" r="1.400" fill="#eeeeee"/></svg></div>
<svg class="abs" style="left:566.200px;top:1343.91px" width="102.0" height="36" viewBox="0 0 102.0 36"><rect x="0" y="0" width="102.0" height="36" fill="url(#ppr)"/></svg>
<div class="t" style="top:1339.39px;font-size:42.2px;color:#c3113f;font-weight:700;letter-spacing:0.35px;left:681.69px;transform-origin:0 0;transform:scaleX(0.76);-webkit-text-stroke:1px #c3113f;">5</div>
<svg class="abs" style="left:139.800px;top:1329.81px" width="60" height="60" viewBox="-29 -30 60 60"><use href="#pin" x="0" y="0"/></svg>
<div class="pill" style="left:204.400px;top:1387.12px;width:68.400px;"><div class="dot" style="left:13.900px"></div><div class="dot" style="left:36.800px"></div></div>
<div class="pill" style="left:290.500px;top:1387.12px;width:112.400px;"></div>
<div class="t" style="top:1387.18px;font-size:39.5px;color:#fff;font-weight:400;letter-spacing:2.8px;left:347.60px;transform-origin:0 0;transform:scaleX(0.66) translateX(-50%);-webkit-text-stroke:0.55px #fff;"><svg class="o1" viewBox="0 0 627 701"><path d="M253,0H372V701H253V78L142,125L92,89Z"/></svg><span style="letter-spacing:0.3px">.</span>449</div>
<div class="t" style="top:1384.91px;font-size:40.3px;color:#666;font-weight:400;left:438.53px;transform-origin:0 0;transform:scaleX(0.6576);-webkit-text-stroke:0.3px #666;">R.U.</div>
<div class="flag" style="left:512.500px;top:1389.52px;"><svg viewBox="0 0 34 34"><rect width="34" height="34" fill="#0052b4"/><path d="M0,0L34,34M34,0L0,34" stroke="#eeeeee" stroke-width="6.400"/><path d="M0,0L34,34M34,0L0,34" stroke="#d80027" stroke-width="1.500"/><rect x="12.700" width="8.600" height="34" fill="#eeeeee"/><rect y="12.900" width="34" height="8.200" fill="#eeeeee"/><rect x="14.600" width="4.800" height="34" fill="#d80027"/><rect y="14.900" width="34" height="4.200" fill="#d80027"/></svg></div>
<svg class="abs" style="left:566.200px;top:1390.12px" width="102.0" height="36" viewBox="0 0 102.0 36"><rect x="0" y="0" width="102.0" height="36" fill="url(#ppb)"/></svg>
<div class="t" style="top:1385.60px;font-size:42.2px;color:#646464;font-weight:700;letter-spacing:0.35px;left:681.69px;transform-origin:0 0;transform:scaleX(0.76);-webkit-text-stroke:1px #646464;">5</div>
<svg class="abs" style="left:139.800px;top:1376.02px" width="60" height="60" viewBox="-29 -30 60 60"><use href="#pin" x="0" y="0"/></svg>
<div class="pill" style="left:204.400px;top:1432.53px;width:68.400px;"><div class="dot" style="left:25.350px"></div></div>
<div class="pill" style="left:290.500px;top:1432.53px;width:112.400px;"></div>
<div class="t" style="top:1432.59px;font-size:39.5px;color:#fff;font-weight:400;letter-spacing:2.8px;left:347.60px;transform-origin:0 0;transform:scaleX(0.66) translateX(-50%);-webkit-text-stroke:0.55px #fff;"><svg class="o1" viewBox="0 0 627 701"><path d="M253,0H372V701H253V78L142,125L92,89Z"/></svg>99</div>
<div class="t" style="top:1430.32px;font-size:40.3px;color:#d6aa1c;font-weight:400;left:433.33px;transform-origin:0 0;transform:scaleX(0.6556);-webkit-text-stroke:0.3px #d6aa1c;">HUN</div>
<div class="flag" style="left:512.500px;top:1434.93px;"><svg viewBox="0 0 34 34"><rect x="0" y="0.00" width="34" height="11.83" fill="#d80027"/><rect x="0" y="11.33" width="34" height="11.83" fill="#eeeeee"/><rect x="0" y="22.67" width="34" height="11.83" fill="#6da544"/></svg></div>
<svg class="abs" style="left:566.200px;top:1435.53px" width="102.0" height="36" viewBox="0 0 102.0 36"><rect x="0" y="0" width="102.0" height="36" fill="url(#ppy)"/></svg>
<div class="t" style="top:1431.01px;font-size:42.2px;color:#d6aa1c;font-weight:700;letter-spacing:0.35px;left:681.69px;transform-origin:0 0;transform:scaleX(0.76);-webkit-text-stroke:1px #d6aa1c;">5</div>
<div class="pill" style="left:204.400px;top:1477.94px;width:68.400px;"><div class="dot" style="left:13.900px"></div><div class="dot" style="left:36.800px"></div></div>
<div class="pill" style="left:290.500px;top:1477.94px;width:112.400px;"></div>
<div class="t" style="top:1478.00px;font-size:39.5px;color:#fff;font-weight:400;letter-spacing:2.8px;left:347.60px;transform-origin:0 0;transform:scaleX(0.66) translateX(-50%);-webkit-text-stroke:0.55px #fff;">2<svg class="o1" viewBox="0 0 627 701"><path d="M253,0H372V701H253V78L142,125L92,89Z"/></svg>0</div>
<div class="t" style="top:1475.73px;font-size:40.3px;color:#d6aa1c;font-weight:400;left:440.31px;transform-origin:0 0;transform:scaleX(0.662);-webkit-text-stroke:0.3px #d6aa1c;">BÉL</div>
<div class="flag" style="left:512.500px;top:1480.34px;"><svg viewBox="0 0 34 34"><rect y="0" x="0.00" height="34" width="11.83" fill="#000000"/><rect y="0" x="11.33" height="34" width="11.83" fill="#ffda44"/><rect y="0" x="22.67" height="34" width="11.83" fill="#d80027"/></svg></div>
<svg class="abs" style="left:566.200px;top:1480.94px" width="81.6" height="36" viewBox="0 0 81.6 36"><rect x="0" y="0" width="81.6" height="36" fill="url(#ppy)"/></svg>
<div class="t" style="top:1476.42px;font-size:42.2px;color:#d6aa1c;font-weight:700;letter-spacing:0.35px;left:661.42px;transform-origin:0 0;transform:scaleX(0.76);-webkit-text-stroke:1px #d6aa1c;">4</div>
<svg class="abs" style="left:139.800px;top:1466.84px" width="60" height="60" viewBox="-29 -30 60 60"><use href="#pin" x="0" y="0"/></svg>
<div class="pill" style="left:204.400px;top:1523.35px;width:68.400px;"><div class="dot" style="left:13.900px"></div><div class="dot" style="left:36.800px"></div></div>
<div class="pill" style="left:290.500px;top:1523.35px;width:112.400px;"></div>
<div class="t" style="top:1523.41px;font-size:39.5px;color:#fff;font-weight:400;letter-spacing:2.8px;left:347.60px;transform-origin:0 0;transform:scaleX(0.66) translateX(-50%);-webkit-text-stroke:0.55px #fff;">560</div>
<div class="t" style="top:1521.14px;font-size:40.3px;color:#666;font-weight:400;left:439.29px;transform-origin:0 0;transform:scaleX(0.6383);-webkit-text-stroke:0.3px #666;">POL</div>
<div class="flag" style="left:512.500px;top:1525.75px;"><svg viewBox="0 0 34 34"><rect x="0" y="0.00" width="34" height="17.50" fill="#eeeeee"/><rect x="0" y="17.00" width="34" height="17.50" fill="#d80027"/></svg></div>
<svg class="abs" style="left:566.200px;top:1526.35px" width="81.6" height="36" viewBox="0 0 81.6 36"><rect x="0" y="0" width="81.6" height="36" fill="url(#ppb)"/></svg>
<div class="t" style="top:1521.83px;font-size:42.2px;color:#646464;font-weight:700;letter-spacing:0.35px;left:661.42px;transform-origin:0 0;transform:scaleX(0.76);-webkit-text-stroke:1px #646464;">4</div>
<svg class="abs" style="left:139.800px;top:1512.25px" width="60" height="60" viewBox="-29 -30 60 60"><use href="#pin" x="0" y="0"/></svg>
<div class="pill" style="left:204.400px;top:1568.76px;width:68.400px;"><div class="dot" style="left:13.900px"></div><div class="dot" style="left:36.800px"></div></div>
<div class="pill" style="left:290.500px;top:1568.76px;width:112.400px;"></div>
<div class="t" style="top:1568.82px;font-size:39.5px;color:#fff;font-weight:400;letter-spacing:2.8px;left:347.60px;transform-origin:0 0;transform:scaleX(0.66) translateX(-50%);-webkit-text-stroke:0.55px #fff;">925</div>
<div class="t" style="top:1566.55px;font-size:40.3px;color:#666;font-weight:400;left:441.59px;transform-origin:0 0;transform:scaleX(0.6077);-webkit-text-stroke:0.3px #666;">FRA</div>
<div class="flag" style="left:512.500px;top:1571.16px;"><svg viewBox="0 0 34 34"><rect y="0" x="0.00" height="34" width="11.83" fill="#0052b4"/><rect y="0" x="11.33" height="34" width="11.83" fill="#eeeeee"/><rect y="0" x="22.67" height="34" width="11.83" fill="#d80027"/></svg></div>
<svg class="abs" style="left:566.200px;top:1571.76px" width="61.2" height="36" viewBox="0 0 61.2 36"><rect x="0" y="0" width="61.2" height="36" fill="url(#ppb)"/></svg>
<div class="t" style="top:1567.24px;font-size:42.2px;color:#646464;font-weight:700;letter-spacing:0.35px;left:641.15px;transform-origin:0 0;transform:scaleX(0.76);-webkit-text-stroke:1px #646464;">3</div>
<svg class="abs" style="left:139.800px;top:1557.66px" width="60" height="60" viewBox="-29 -30 60 60"><use href="#pin" x="0" y="0"/></svg>
<div class="pill" style="left:204.400px;top:1614.17px;width:68.400px;"><div class="dot" style="left:13.900px"></div><div class="dot" style="left:36.800px"></div></div>
<div class="pill" style="left:290.500px;top:1614.17px;width:112.400px;"></div>
<div class="t" style="top:1614.23px;font-size:39.5px;color:#fff;font-weight:400;letter-spacing:2.8px;left:347.60px;transform-origin:0 0;transform:scaleX(0.66) translateX(-50%);-webkit-text-stroke:0.55px #fff;">6<svg class="o1" viewBox="0 0 627 701"><path d="M253,0H372V701H253V78L142,125L92,89Z"/></svg>6</div>
<div class="t" style="top:1611.96px;font-size:40.3px;color:#666;font-weight:400;left:440.50px;transform-origin:0 0;transform:scaleX(0.6032);-webkit-text-stroke:0.3px #666;">ESP</div>
<div class="flag" style="left:512.500px;top:1616.57px;"><svg viewBox="0 0 34 34"><rect x="0" y="0.00" width="34" height="9.68" fill="#d80027"/><rect x="0" y="9.18" width="34" height="16.14" fill="#ffda44"/><rect x="0" y="24.82" width="34" height="9.68" fill="#d80027"/></svg></div>
<svg class="abs" style="left:566.200px;top:1617.17px" width="61.2" height="36" viewBox="0 0 61.2 36"><rect x="0" y="0" width="61.2" height="36" fill="url(#ppb)"/></svg>
<div class="t" style="top:1612.65px;font-size:42.2px;color:#646464;font-weight:700;letter-spacing:0.35px;left:641.15px;transform-origin:0 0;transform:scaleX(0.76);-webkit-text-stroke:1px #646464;">3</div>
<svg class="abs" style="left:139.800px;top:1603.07px" width="60" height="60" viewBox="-29 -30 60 60"><use href="#pin" x="0" y="0"/></svg>
<div class="pill" style="left:204.400px;top:1659.58px;width:68.400px;"><div class="dot" style="left:13.900px"></div><div class="dot" style="left:36.800px"></div></div>
<div class="pill" style="left:290.500px;top:1659.58px;width:112.400px;"></div>
<div class="t" style="top:1659.64px;font-size:39.5px;color:#fff;font-weight:400;letter-spacing:2.8px;left:347.60px;transform-origin:0 0;transform:scaleX(0.66) translateX(-50%);-webkit-text-stroke:0.55px #fff;">225</div>
<div class="t" style="top:1657.37px;font-size:40.3px;color:#666;font-weight:400;left:439.69px;transform-origin:0 0;transform:scaleX(0.7341);-webkit-text-stroke:0.3px #666;">P.B.</div>
<div class="flag" style="left:512.500px;top:1661.98px;"><svg viewBox="0 0 34 34"><rect x="0" y="0.00" width="34" height="11.83" fill="#a2001d"/><rect x="0" y="11.33" width="34" height="11.83" fill="#eeeeee"/><rect x="0" y="22.67" width="34" height="11.83" fill="#0052b4"/></svg></div>
<svg class="abs" style="left:566.200px;top:1662.58px" width="61.2" height="36" viewBox="0 0 61.2 36"><rect x="0" y="0" width="61.2" height="36" fill="url(#ppb)"/></svg>
<div class="t" style="top:1658.06px;font-size:42.2px;color:#646464;font-weight:700;letter-spacing:0.35px;left:641.15px;transform-origin:0 0;transform:scaleX(0.76);-webkit-text-stroke:1px #646464;">3</div>
<svg class="abs" style="left:139.800px;top:1648.48px" width="60" height="60" viewBox="-29 -30 60 60"><use href="#pin" x="0" y="0"/></svg>
<div class="pill" style="left:204.400px;top:1704.99px;width:68.400px;"><div class="dot" style="left:13.900px"></div><div class="dot" style="left:36.800px"></div></div>
<div class="pill" style="left:290.500px;top:1704.99px;width:112.400px;"></div>
<div class="t" style="top:1705.05px;font-size:39.5px;color:#fff;font-weight:400;letter-spacing:2.8px;left:347.60px;transform-origin:0 0;transform:scaleX(0.66) translateX(-50%);-webkit-text-stroke:0.55px #fff;">600</div>
<div class="t" style="top:1702.78px;font-size:40.3px;color:#666;font-weight:400;left:451.91px;transform-origin:0 0;transform:scaleX(0.6166);-webkit-text-stroke:0.3px #666;">ITÁ</div>
<div class="flag" style="left:512.500px;top:1707.39px;"><svg viewBox="0 0 34 34"><rect y="0" x="0.00" height="34" width="11.83" fill="#6da544"/><rect y="0" x="11.33" height="34" width="11.83" fill="#eeeeee"/><rect y="0" x="22.67" height="34" width="11.83" fill="#d80027"/></svg></div>
<svg class="abs" style="left:566.200px;top:1707.99px" width="61.2" height="36" viewBox="0 0 61.2 36"><rect x="0" y="0" width="61.2" height="36" fill="url(#ppb)"/></svg>
<div class="t" style="top:1703.47px;font-size:42.2px;color:#646464;font-weight:700;letter-spacing:0.35px;left:641.15px;transform-origin:0 0;transform:scaleX(0.76);-webkit-text-stroke:1px #646464;">3</div>
<svg class="abs" style="left:139.800px;top:1693.89px" width="60" height="60" viewBox="-29 -30 60 60"><use href="#pin" x="0" y="0"/></svg>
<div class="pill" style="left:204.400px;top:1750.40px;width:68.400px;"><div class="dot" style="left:13.900px"></div><div class="dot" style="left:36.800px"></div></div>
<div class="pill" style="left:290.500px;top:1750.40px;width:112.400px;"></div>
<div class="t" style="top:1750.46px;font-size:39.5px;color:#fff;font-weight:400;letter-spacing:2.8px;left:347.60px;transform-origin:0 0;transform:scaleX(0.66) translateX(-50%);-webkit-text-stroke:0.55px #fff;">699</div>
<div class="t" style="top:1748.19px;font-size:40.3px;color:#666;font-weight:400;left:443.53px;transform-origin:0 0;transform:scaleX(0.6145);-webkit-text-stroke:0.3px #666;">ALE</div>
<div class="flag" style="left:512.500px;top:1752.80px;"><svg viewBox="0 0 34 34"><rect x="0" y="0.00" width="34" height="11.83" fill="#000000"/><rect x="0" y="11.33" width="34" height="11.83" fill="#d80027"/><rect x="0" y="22.67" width="34" height="11.83" fill="#ffda44"/></svg></div>
<svg class="abs" style="left:566.200px;top:1753.40px" width="40.8" height="36" viewBox="0 0 40.8 36"><rect x="0" y="0" width="40.8" height="36" fill="url(#ppb)"/></svg>
<div class="t" style="top:1748.88px;font-size:42.2px;color:#646464;font-weight:700;letter-spacing:0.35px;left:620.88px;transform-origin:0 0;transform:scaleX(0.76);-webkit-text-stroke:1px #646464;">2</div>
<svg class="abs" style="left:139.800px;top:1739.30px" width="60" height="60" viewBox="-29 -30 60 60"><use href="#pin" x="0" y="0"/></svg>
<div class="t" style="top:1325.15px;font-size:42px;color:#d6aa1c;font-weight:400;left:834.40px;transform-origin:0 0;transform:scaleX(0.691);-webkit-text-stroke:0.45px #d6aa1c;">Países com</div>
<div class="t" style="top:1368.40px;font-size:42px;color:#d6aa1c;font-weight:400;left:834.40px;transform-origin:0 0;transform:scaleX(0.724);-webkit-text-stroke:0.45px #d6aa1c;">população</div>
<div class="t" style="top:1411.65px;font-size:42px;color:#d6aa1c;font-weight:400;left:834.40px;transform-origin:0 0;transform:scaleX(0.713);-webkit-text-stroke:0.45px #d6aa1c;">aproximada</div>
<div class="t" style="top:1454.90px;font-size:42px;color:#d6aa1c;font-weight:400;left:834.40px;transform-origin:0 0;transform:scaleX(0.715);-webkit-text-stroke:0.45px #d6aa1c;">da portuguesa</div>
<div class="t" style="top:1498.15px;font-size:42px;color:#d6aa1c;font-weight:400;left:834.40px;transform-origin:0 0;transform:scaleX(0.719);-webkit-text-stroke:0.45px #d6aa1c;">(entre 8 e <svg class="o1" preserveAspectRatio="none" style="width:0.627em;height:0.735em;margin:0 -0.0355em;vertical-align:-0.4px" viewBox="0 0 627 701"><path d="M253,0H372V701H253V78L142,125L92,89Z"/></svg>2</div>
<div class="t" style="top:1541.40px;font-size:42px;color:#d6aa1c;font-weight:400;left:834.40px;transform-origin:0 0;transform:scaleX(0.741);-webkit-text-stroke:0.45px #d6aa1c;">milhões)</div>
<div class="abs" style="left:571.700px;top:1820px;width:1.700px;height:26.300px;background:#8c8c8c;"></div>
<div class="t" style="top:1817.87px;font-size:30.4px;color:#777777;font-weight:400;left:38.32px;transform-origin:0 0;transform:scaleX(0.6737);">Fonte:</div>
<div class="t" style="top:1817.87px;font-size:30.4px;color:#777777;font-weight:400;left:101.19px;transform-origin:0 0;transform:scaleX(0.591);">AR,</div>
<div class="t" style="top:1817.87px;font-size:30.4px;color:#777777;font-weight:400;left:136.21px;transform-origin:0 0;transform:scaleX(0.6812);">páginas</div>
<div class="t" style="top:1817.87px;font-size:30.4px;color:#777777;font-weight:400;left:214.15px;transform-origin:0 0;transform:scaleX(0.6545);">dos</div>
<div class="t" style="top:1817.87px;font-size:30.4px;color:#777777;font-weight:400;left:252.43px;transform-origin:0 0;transform:scaleX(0.6923);">parlamentos</div>
<div class="t" style="top:1817.87px;font-size:30.4px;color:#777777;font-weight:400;left:374.89px;transform-origin:0 0;transform:scaleX(0.6784);">nacionais</div>
<div class="t" style="top:1817.87px;font-size:30.4px;color:#777777;font-weight:400;left:468.50px;transform-origin:0 0;transform:scaleX(0.5769);">e</div>
<div class="t" style="top:1817.87px;font-size:30.4px;color:#777777;font-weight:400;left:483.30px;transform-origin:0 0;transform:scaleX(0.6787);">Eurostat</div>
<div class="t" style="top:1817.87px;font-size:30.4px;color:#777777;font-weight:400;left:583.32px;transform-origin:0 0;transform:scaleX(0.6719);">Produzido</div>
<div class="t" style="top:1817.87px;font-size:30.4px;color:#777777;font-weight:400;left:681.77px;transform-origin:0 0;transform:scaleX(0.5609);">a</div>
<div class="t" style="top:1817.87px;font-size:30.4px;color:#777777;font-weight:400;left:697.70px;transform-origin:0 0;transform:scaleX(0.7016);">28</div>
<div class="t" style="top:1817.87px;font-size:30.4px;color:#777777;font-weight:400;left:729.95px;transform-origin:0 0;transform:scaleX(0.617);">de</div>
<div class="t" style="top:1817.87px;font-size:30.4px;color:#777777;font-weight:400;left:757.39px;transform-origin:0 0;transform:scaleX(0.6778);">maio</div>
<div class="t" style="top:1817.87px;font-size:30.4px;color:#777777;font-weight:400;left:808.44px;transform-origin:0 0;transform:scaleX(0.625);">de</div>
<div class="t" style="top:1817.87px;font-size:30.4px;color:#777777;font-weight:400;left:836.36px;transform-origin:0 0;transform:scaleX(0.7627);">2025</div>
<div class="t" style="top:1817.87px;font-size:30.4px;color:#5e5e5e;font-weight:400;font-style:italic;left:912.22px;transform-origin:0 0;transform:scaleX(0.7018);-webkit-text-stroke:0.2px #5e5e5e;">maisfactos.pt</div>
<svg class="abs" style="left:894px;top:1826px" width="14" height="13" viewBox="0 0 14 13"><path d="M1.500,1L13,6.250L1.500,11.500Z" fill="#666"/></svg>
<div class="abs" style="left:1236.300px;top:1805.500px;width:27.400px;height:7.800px;border-radius:2px;background:#0b0b0b;"></div>
<div class="abs" style="left:1245.800px;top:1795.500px;width:8.400px;height:28.200px;border-radius:2px;background:#0b0b0b;"></div>
<div class="t se" style="top:1769.58px;font-size:70px;color:#0b0b0b;font-weight:700;left:1274.80px;transform-origin:0 0;transform:scaleX(1.03);-webkit-text-stroke:0.8px #0b0b0b;">factos</div>
</body></html>
